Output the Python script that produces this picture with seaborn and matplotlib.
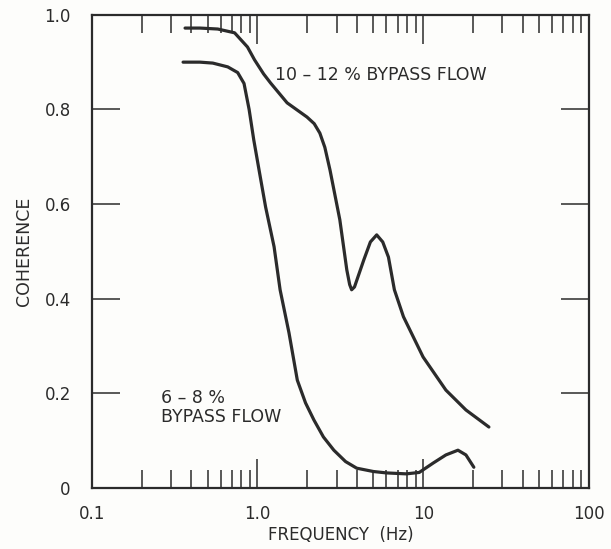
import matplotlib
matplotlib.use("Agg")
import matplotlib.pyplot as plt
import seaborn as sns
import pandas as pd
from matplotlib.ticker import FixedLocator, NullFormatter

# 10-12 % bypass flow
freq_hi = [0.366, 0.45, 0.576, 0.728, 0.871, 0.96, 1.09, 1.2, 1.51, 1.99, 2.2, 2.38, 2.55,
           2.74, 3.14, 3.46, 3.6, 3.70, 3.85, 4.38, 4.8, 5.24, 5.7, 6.17, 6.7, 7.6, 9.98,
           13.7, 18.1, 24.9]
coh_hi = [0.972, 0.972, 0.970, 0.962, 0.932, 0.905, 0.875, 0.856, 0.814, 0.784, 0.77, 0.75, 0.72,
          0.672, 0.567, 0.461, 0.43, 0.419, 0.425, 0.482, 0.52, 0.535, 0.52, 0.488, 0.419, 0.362, 0.277,
          0.207, 0.165, 0.129]

# 6-8 % bypass flow
freq_lo = [0.356, 0.45, 0.538, 0.662, 0.76, 0.83, 0.891, 0.95, 1.03, 1.12, 1.26, 1.37, 1.55, 1.74,
           1.95, 2.19, 2.5, 2.89, 3.4, 3.97, 5.0, 6.0, 7.9, 9.46, 11.5, 13.7, 16.2, 18.1, 20.2]
coh_lo = [0.90, 0.90, 0.898, 0.89, 0.878, 0.855, 0.80, 0.736, 0.666, 0.594, 0.51, 0.419, 0.328, 0.228,
          0.18, 0.144, 0.108, 0.080, 0.056, 0.042, 0.035, 0.032, 0.030, 0.033, 0.053, 0.07, 0.08, 0.07, 0.044]

y_ticks = [0, 0.2, 0.4, 0.6, 0.8, 1.0]
y_labels = ["0", "0.2", "0.4", "0.6", "0.8", "1.0"]
x_ticks = [0.1, 1.0, 10, 100]
x_labels = ["0.1", "1.0", "10", "100"]

df = pd.concat([
    pd.DataFrame({"freq": freq_hi, "coh": coh_hi, "flow": "10-12"}),
    pd.DataFrame({"freq": freq_lo, "coh": coh_lo, "flow": "6-8"}),
])

sns.set_style("white")
plt.rcParams["font.family"] = ["DejaVu Sans"]
ink = "#2b2b2b"

fig = plt.figure(figsize=(6.11, 5.49), dpi=100, facecolor="#fdfdfb")
ax = fig.add_axes([0.150, 0.111, 0.814, 0.862])
ax.set_facecolor("#fdfdfb")

sns.lineplot(data=df, x="freq", y="coh", units="flow", estimator=None, sort=False,
             color=ink, linewidth=2.3, ax=ax, legend=False)

ax.set_xscale("log")
ax.set_xlim(0.1, 100)
ax.set_ylim(0, 1.0)

for s in ax.spines.values():
    s.set_color(ink)
    s.set_linewidth(1.6)

ax.xaxis.set_major_locator(FixedLocator(x_ticks))
ax.set_xticklabels(x_labels)
minors = [m * d for d in [0.1, 1, 10] for m in range(2, 10)]
ax.xaxis.set_minor_locator(FixedLocator(minors))
ax.xaxis.set_minor_formatter(NullFormatter())
ax.set_yticks(y_ticks)
ax.set_yticklabels(y_labels)

ax.tick_params(axis="x", which="major", direction="in", length=21, width=1.1, color=ink,
               top=True, bottom=True, labelsize=12, labelcolor=ink, pad=12)
ax.tick_params(axis="x", which="minor", direction="in", length=13, width=1.1, color=ink,
               top=True, bottom=True)
ax.tick_params(axis="y", which="major", direction="in", length=20, width=1.1, color=ink,
               left=True, right=True, labelsize=12, labelcolor=ink, pad=15)

ax.set_xlabel("FREQUENCY  (Hz)", fontsize=12, color=ink, labelpad=2)
ax.set_ylabel("COHERENCE", fontsize=12.5, color=ink, labelpad=8)

ax.text(1.28, 0.873, "10 – 12 % BYPASS FLOW", fontsize=12.5, color=ink, va="center", ha="left")
ax.text(0.263, 0.19, "6 – 8 %", fontsize=12.5, color=ink, va="center", ha="left")
ax.text(0.263, 0.151, "BYPASS FLOW", fontsize=12.5, color=ink, va="center", ha="left")

fig.savefig("out.png", dpi=100, facecolor=fig.get_facecolor())
